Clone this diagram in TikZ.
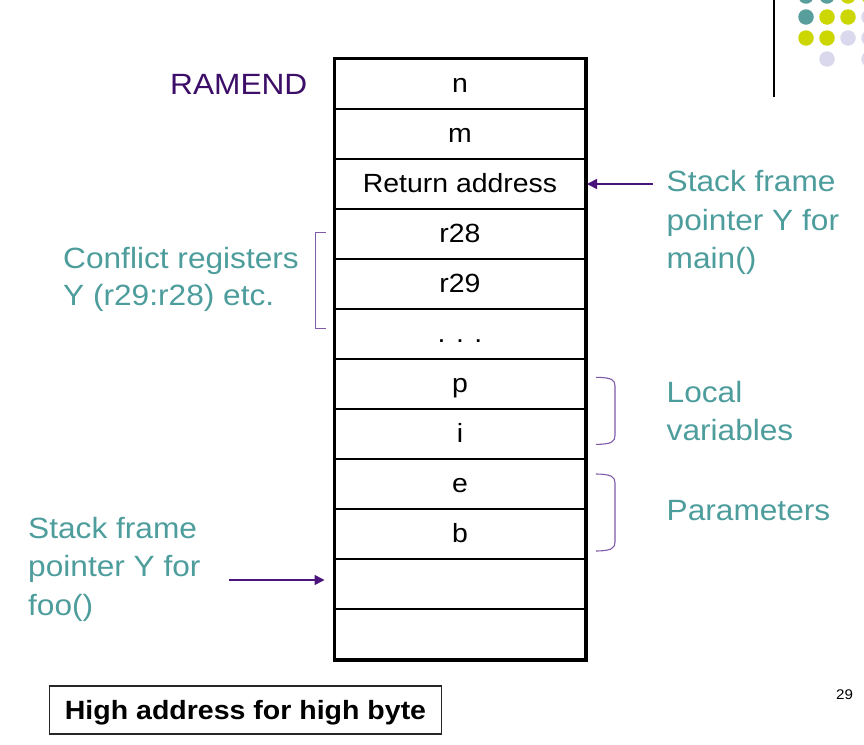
\documentclass[tikz,border=0pt]{standalone}
\usepackage{fontspec}
\usetikzlibrary{arrows.meta}
\newfontfamily\arialx[FakeStretch=1.08]{Liberation Sans}
\definecolor{tealtxt}{RGB}{78,157,157}
\definecolor{ramendc}{RGB}{60,14,104}
\definecolor{arrowc}{RGB}{75,20,125}
\definecolor{brackc}{RGB}{128,90,170}
\definecolor{dteal}{RGB}{88,158,156}
\definecolor{dlime}{RGB}{204,214,0}
\definecolor{dlav}{RGB}{218,216,236}
\tikzset{
  lbl/.style={font=\arialx\fontsize{29.3}{35}\selectfont, text=tealtxt, inner sep=0pt, anchor=base west},
  cellbox/.style={draw=black, line width=1.5pt, minimum width=250pt, minimum height=50pt, inner sep=0pt,
     text height=17pt, text depth=0pt, font=\arialx\fontsize{26.3}{30}\selectfont},
  ptr/.style={draw=arrowc, line width=1.6pt, -{Triangle[length=10pt,width=10pt]}},
  brk/.style={draw=brackc, line width=1.1pt},
  dotc/.style={circle, inner sep=0pt, minimum size=15.5pt}
}
\begin{document}
\begin{tikzpicture}[x=1pt,y=-1pt]
\useasboundingbox (0,0) rectangle (864,744);
\fill[white] (0,0) rectangle (864,744);
% decoration dots
\node[dotc, fill=dteal] (d11) at (806,-4) {};
\node[dotc, fill=dteal] (d12) at (827,-4) {};
\node[dotc, fill=dlime] (d13) at (848,-4) {};
\node[dotc, fill=dlime] (d14) at (869,-4) {};
\node[dotc, fill=dteal] (d21) at (806,17) {};
\node[dotc, fill=dlime] (d22) at (827,17) {};
\node[dotc, fill=dlime] (d23) at (848,17) {};
\node[dotc, fill=dlav] (d24) at (869,17) {};
\node[dotc, fill=dlime] (d31) at (806,38) {};
\node[dotc, fill=dlime] (d32) at (827,38) {};
\node[dotc, fill=dlav] (d33) at (848,38) {};
\node[dotc, fill=dlav] (d34) at (869,38) {};
\node[dotc, fill=dlav] (d42) at (827,59) {};
\node[dotc, fill=dlav] (d44) at (869,59) {};
\draw[line width=1.5pt] (774,0) -- (774,97);
% stack table
\node[cellbox] (c1) at (460,84) {n};
\node[cellbox] (c2) at (460,134) {m};
\node[cellbox] (c3) at (460,184) {Return address};
\node[cellbox] (c4) at (460,234) {r28};
\node[cellbox] (c5) at (460,284) {r29};
\node[cellbox] (c6) at (460,334) {. . .};
\node[cellbox] (c7) at (460,384) {p};
\node[cellbox] (c8) at (460,434) {i};
\node[cellbox] (c9) at (460,484) {e};
\node[cellbox] (c10) at (460,534) {b};
\node[cellbox] (c11) at (460,584) {};
\node[cellbox] (c12) at (460,634) {};
\draw[line width=3.5pt] (c1.north west) rectangle (c12.south east);
% labels
\node[lbl, text=ramendc] (ramend) at (170,94.3) {RAMEND};
\node[lbl] (cr1) at (63,268.5) {Conflict registers};
\node[lbl] (cr2) at (63,305.5) {Y (r29:r28) etc.};
\node[lbl] (sm1) at (666.5,191.7) {Stack frame};
\node[lbl] (sm2) at (666.5,230) {pointer Y for};
\node[lbl] (sm3) at (666.5,268.3) {main()};
\node[lbl] (lv1) at (666.5,402) {Local};
\node[lbl] (lv2) at (666.5,440.5) {variables};
\node[lbl] (par) at (666.5,520) {Parameters};
\node[lbl] (sf1) at (28,538) {Stack frame};
\node[lbl] (sf2) at (28,576.5) {pointer Y for};
\node[lbl] (sf3) at (28,615) {foo()};
% arrows
\coordinate (mainA) at (653,184);
\coordinate (mainB) at (587,184);
\draw[ptr] (mainA) -- (mainB);
\coordinate (fooA) at (229,580);
\coordinate (fooB) at (324.5,580);
\draw[ptr] (fooA) -- (fooB);
% brackets
\draw[brk] (325.7,232.7) -- (315.7,232.7) -- (315.7,328.3) -- (325.7,328.3);
\draw[brk] (596,377.3) .. controls (612,377.5) and (615,380) .. (615,386) -- (615,435.5) .. controls (615,441.5) and (612,444.2) .. (596,444.4);
\draw[brk] (596,474) .. controls (612,474.2) and (615,477) .. (615,483) -- (615,542) .. controls (615,548) and (612,550.8) .. (596,551);
% note box
\node[draw=black!85, line width=1.2pt, minimum width=392.4pt, minimum height=48pt, inner sep=0pt,
      text height=18pt, text depth=0pt, font=\arialx\bfseries\fontsize{26.4}{30}\selectfont] (note) at (245.5,710) {High address for high byte};
\node[font=\arialx\fontsize{14}{16}\selectfont, inner sep=0pt, anchor=base west] (pg) at (836,699) {29};
\end{tikzpicture}
\end{document}
